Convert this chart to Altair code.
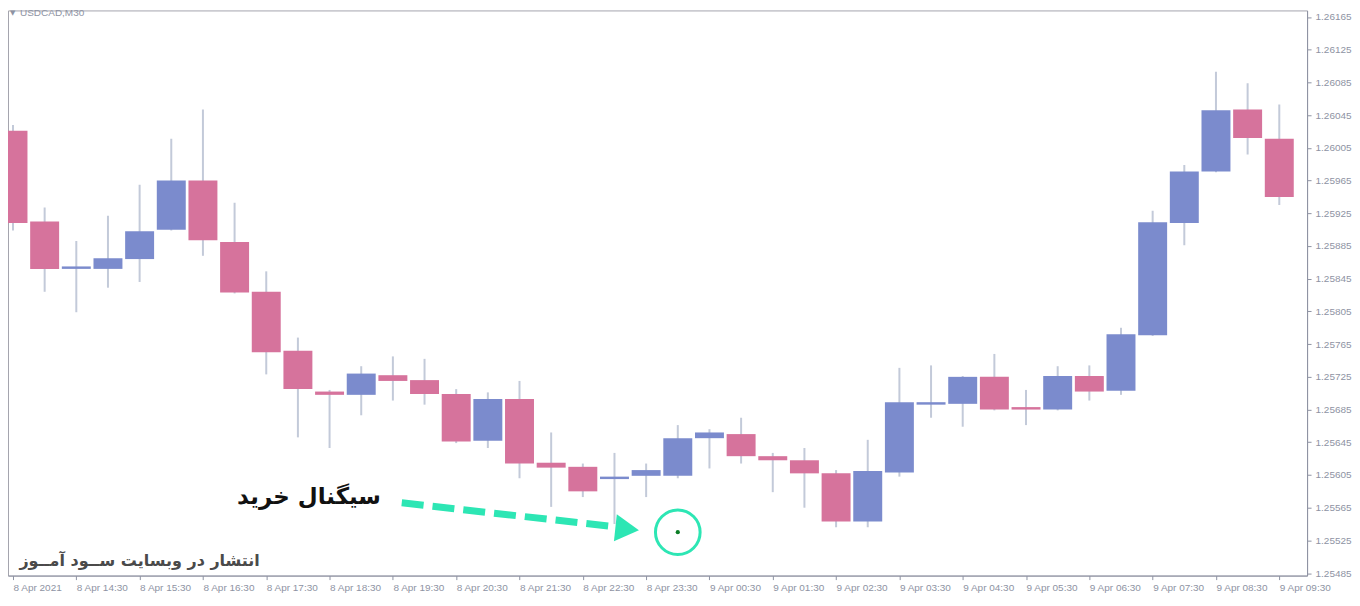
import altair as alt
import pandas as pd

# ---- data (USDCAD, M30) ----
tick_labels = ["8 Apr 2021", "8 Apr 14:30", "8 Apr 15:30", "8 Apr 16:30", "8 Apr 17:30",
               "8 Apr 18:30", "8 Apr 19:30", "8 Apr 20:30", "8 Apr 21:30", "8 Apr 22:30",
               "8 Apr 23:30", "9 Apr 00:30", "9 Apr 01:30", "9 Apr 02:30", "9 Apr 03:30",
               "9 Apr 04:30", "9 Apr 05:30", "9 Apr 06:30", "9 Apr 07:30", "9 Apr 08:30",
               "9 Apr 09:30"]

opens = [1.26026, 1.25915, 1.25857, 1.25857, 1.25869, 1.25905, 1.25965, 1.25890, 1.25829, 1.25757,
         1.25707, 1.25703, 1.25727, 1.25721, 1.25704, 1.25647, 1.25698, 1.25620, 1.25615, 1.25600,
         1.25604, 1.25604, 1.25650, 1.25655, 1.25628, 1.25623, 1.25607, 1.25548, 1.25608, 1.25691,
         1.25692, 1.25725, 1.25688, 1.25685, 1.25726, 1.25708, 1.25776, 1.25913, 1.25976, 1.26052,
         1.26016]
highs = [1.26033, 1.25932, 1.25891, 1.25922, 1.25960, 1.26016, 1.26052, 1.25938, 1.25854, 1.25773,
         1.25709, 1.25738, 1.25750, 1.25747, 1.25710, 1.25706, 1.25720, 1.25657, 1.25619, 1.25632,
         1.25619, 1.25666, 1.25661, 1.25675, 1.25632, 1.25638, 1.25611, 1.25648, 1.25736, 1.25739,
         1.25726, 1.25753, 1.25709, 1.25738, 1.25739, 1.25785, 1.25928, 1.25984, 1.26098, 1.26084,
         1.26058]
lows = [1.25904, 1.25829, 1.25804, 1.25834, 1.25841, 1.25904, 1.25873, 1.25827, 1.25728, 1.25651,
        1.25638, 1.25678, 1.25696, 1.25691, 1.25644, 1.25638, 1.25601, 1.25566, 1.25578, 1.25545,
        1.25578, 1.25601, 1.25613, 1.25619, 1.25584, 1.25565, 1.25541, 1.25541, 1.25603, 1.25675,
        1.25664, 1.25684, 1.25666, 1.25684, 1.25696, 1.25703, 1.25775, 1.25886, 1.25975, 1.25997,
        1.25935]
closes = [1.25913, 1.25857, 1.25860, 1.25870, 1.25903, 1.25965, 1.25892, 1.25828, 1.25755, 1.25710,
          1.25703, 1.25729, 1.25720, 1.25704, 1.25646, 1.25698, 1.25619, 1.25614, 1.25585, 1.25603,
          1.25611, 1.25650, 1.25657, 1.25628, 1.25623, 1.25607, 1.25548, 1.25610, 1.25694, 1.25694,
          1.25725, 1.25685, 1.25685, 1.25726, 1.25707, 1.25777, 1.25914, 1.25976, 1.26051, 1.26017,
          1.25945]

y_ticks = [1.25485, 1.25525, 1.25565, 1.25605, 1.25645, 1.25685, 1.25725, 1.25765, 1.25805,
           1.25845, 1.25885, 1.25925, 1.25965, 1.26005, 1.26045, 1.26085, 1.26125, 1.26165]

# annotation anchors (bar index, price)
signal_text = ["سیگنال خرید"]
signal_pos = [9.35, 1.25578]
arrow_x = [12.28, 18.95]
arrow_y = [1.25571, 1.25542]
arrowhead_pos = [19.4, 1.25539]
circle_pos = [21.0, 1.25535]
watermark_text = ["انتشار در وبسایت ســود آمــوز"]
watermark_pos = [4.0, 1.25500]

BULL = "#7b8bcd"
BEAR = "#d6739c"
WICK = "#c3cad9"
TEAL = "#2de6b4"
AXIS_GRAY = "#8e93a3"

df = pd.DataFrame({
    "idx": list(range(len(opens))),
    "open": opens, "high": highs, "low": lows, "close": closes,
})
df["dir"] = ["up" if c >= o else "down" for o, c in zip(opens, closes)]

label_arr = "[" + ",".join("'" + t + "'" for t in tick_labels) + "]"

xscale = alt.Scale(domain=[0, 40.72], nice=False, zero=False)
yscale = alt.Scale(domain=[1.25482, 1.26173], nice=False, zero=False)

xaxis = alt.Axis(values=list(range(0, 41, 2)), labelExpr=label_arr + "[round(datum.value/2)]",
                 title=None, grid=False, labelAlign="left", labelBaseline="top",
                 labelOverlap=False, labelFlush=False)
yaxis = alt.Axis(values=y_ticks, format=".5f", orient="right", title=None, grid=False,
                 labelOverlap=False, labelFlush=False)

X = lambda f: alt.X(f, scale=xscale, axis=xaxis)
Y = lambda f: alt.Y(f, scale=yscale, axis=yaxis)

base = alt.Chart(df)

wicks = base.mark_rule(strokeWidth=2, color=WICK, clip=True).encode(
    x=X("idx:Q"), y=Y("low:Q"), y2="high:Q")

bodies = base.mark_bar(size=29, clip=True).encode(
    x=X("idx:Q"), y=Y("open:Q"), y2="close:Q",
    color=alt.Color("dir:N", scale=alt.Scale(domain=["up", "down"], range=[BULL, BEAR]), legend=None),
)

arrow_df = pd.DataFrame({"x": arrow_x, "y": arrow_y})
arrow = alt.Chart(arrow_df).mark_line(color=TEAL, strokeWidth=7, strokeDash=[22, 9]).encode(
    x=X("x:Q"), y=Y("y:Q"))

head_df = pd.DataFrame({"x": [arrowhead_pos[0]], "y": [arrowhead_pos[1]]})
head = alt.Chart(head_df).mark_point(shape="triangle-right", filled=True, size=750, color=TEAL,
                                     opacity=1, angle=6).encode(x=X("x:Q"), y=Y("y:Q"))

circ_df = pd.DataFrame({"x": [circle_pos[0]], "y": [circle_pos[1]]})
circle = alt.Chart(circ_df).mark_point(shape="circle", filled=False, size=2000, color=TEAL,
                                       strokeWidth=3, opacity=1).encode(x=X("x:Q"), y=Y("y:Q"))
dot = alt.Chart(circ_df).mark_point(shape="circle", filled=True, size=18, color="#0b7d25",
                                    opacity=1).encode(x=X("x:Q"), y=Y("y:Q"))

sig_df = pd.DataFrame({"x": [signal_pos[0]], "y": [signal_pos[1]], "t": signal_text})
sig = alt.Chart(sig_df).mark_text(font="DejaVu Sans", fontWeight="bold", fontSize=23,
                                  color="#111111", align="center", baseline="middle").encode(
    x=X("x:Q"), y=Y("y:Q"), text="t:N")

wm_df = pd.DataFrame({"x": [watermark_pos[0]], "y": [watermark_pos[1]], "t": watermark_text})
wm = alt.Chart(wm_df).mark_text(font="DejaVu Sans", fontWeight="bold", fontSize=16,
                                color="#4a4a4a", align="center", baseline="middle").encode(
    x=X("x:Q"), y=Y("y:Q"), text="t:N")

hdr_df = pd.DataFrame({"t": ["USDCAD,M30"], "m": ["▼"]})
hdr = alt.Chart(hdr_df).mark_text(font="Liberation Sans", fontSize=10, color=AXIS_GRAY,
                                  align="left", baseline="middle").encode(
    x=alt.value(12), y=alt.value(3), text="t:N")
hdr_mark = alt.Chart(hdr_df).mark_text(font="DejaVu Sans", fontSize=7, color=AXIS_GRAY,
                                       align="left", baseline="middle").encode(
    x=alt.value(2), y=alt.value(3), text="m:N")

chart = alt.layer(wicks, bodies, arrow, head, circle, dot, sig, wm, hdr, hdr_mark).properties(
    width=1301, height=566, padding=0, background="#ffffff"
).configure_view(stroke="#a4a4ae", strokeWidth=1
).configure_axis(
    labelOverlap=False, labelFlush=False, labelFont="Liberation Sans", labelFontSize=10,
    labelColor=AXIS_GRAY, tickColor=AXIS_GRAY, tickSize=4, domainColor=AXIS_GRAY,
    grid=False, title=None
).configure_axisX(labelPadding=3).configure_axisY(labelPadding=4)

chart.save("out.html", embed_options={"renderer": "svg", "actions": False})
